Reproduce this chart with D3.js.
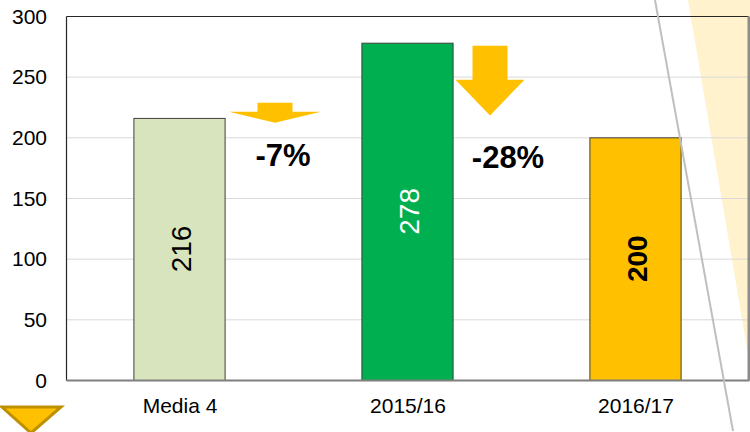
<!DOCTYPE html>
<html>
<head>
<meta charset="utf-8">
<script src="https://cdn.jsdelivr.net/npm/d3@7"></script>
<style>
  body { margin: 0; background: #fff; }
  text { font-family: "Liberation Sans", Arial, sans-serif; }
</style>
</head>
<body>
<script>
var width = 750, height = 432;

// data
var categories = ["Media 4", "2015/16", "2016/17"];
var values = [216, 278, 200];
var barColors = ["#d7e4bd", "#00b050", "#ffc000"];
var labelColors = ["#000", "#fff", "#000"];
var labelWeights = ["normal", "normal", "bold"];
var yTicks = [0, 50, 100, 150, 200, 250, 300];
var changes = ["-7%", "-28%"];

var margin = {top: 16, left: 66, right: 0, bottom: 52};

var svg = d3.select("body").append("svg")
    .attr("width", width)
    .attr("height", height);

// light yellow band in the corner
svg.append("path")
    .attr("d", "M688,0 L750,0 L750,366 Z")
    .attr("fill", "#fff2cc");

var xScale = d3.scaleBand().domain(categories)
    .range([margin.left, width - margin.right])
    .paddingInner(0.6).paddingOuter(0.3),
yScale = d3.scaleLinear().domain([0, 300])
    .range([height - margin.bottom, margin.top]);

// gridlines
svg.append("g")
    .selectAll("line")
    .data(yTicks.filter(function(d) { return d > 0 && d < 300; }))
    .enter().append("line")
    .attr("x1", margin.left).attr("x2", width - 2)
    .attr("y1", function(d) { return yScale(d) + 0.5; })
    .attr("y2", function(d) { return yScale(d) + 0.5; })
    .attr("stroke", "#d9d9d9").attr("stroke-width", 1);

// y labels
svg.append("g")
    .selectAll("text")
    .data(yTicks)
    .enter().append("text")
    .attr("x", 47)
    .attr("y", function(d) { return yScale(d); })
    .attr("dy", "0.36em")
    .attr("text-anchor", "end")
    .attr("font-size", 21)
    .attr("fill", "#000")
    .text(function(d) { return d; });

// bars
svg.selectAll(".bar")
    .data(values)
    .enter().append("rect")
    .attr("class", "bar")
    .attr("x", function(d, i) { return xScale(categories[i]) - 0.5; })
    .attr("y", function(d) { return yScale(d) + 0.5; })
    .attr("width", xScale.bandwidth())
    .attr("height", function(d) { return yScale(0) - yScale(d); })
    .attr("fill", function(d, i) { return barColors[i]; })
    .attr("stroke", "#404040")
    .attr("stroke-width", 1);

// value labels, rotated
svg.selectAll(".val")
    .data(values)
    .enter().append("text")
    .attr("class", "val")
    .attr("transform", function(d, i) {
        var cx = xScale(categories[i]) + xScale.bandwidth() / 2 + 1;
        var cy = (yScale(d) + yScale(0)) / 2;
        return "translate(" + cx + "," + cy + ") rotate(-90)";
    })
    .attr("text-anchor", "middle")
    .attr("dy", "0.36em")
    .attr("font-size", 28)
    .attr("font-weight", function(d, i) { return labelWeights[i]; })
    .attr("fill", function(d, i) { return labelColors[i]; })
    .text(function(d) { return d; });

// frame
var x0 = margin.left + 0.5, x1 = width - 1.5, y0 = yScale(300) + 0.5, y1 = yScale(0) + 0.5;
svg.append("line").attr("x1", x0).attr("x2", x1).attr("y1", y0).attr("y2", y0)
    .attr("stroke", "#262626").attr("stroke-width", 1.2);
svg.append("line").attr("x1", x0).attr("x2", x0).attr("y1", y0).attr("y2", y1)
    .attr("stroke", "#262626").attr("stroke-width", 1.2);
svg.append("line").attr("x1", x0).attr("x2", x1 + 1).attr("y1", y1).attr("y2", y1)
    .attr("stroke", "#7f7f7f").attr("stroke-width", 2);
svg.append("line").attr("x1", x1 + 0.5).attr("x2", x1 + 0.5).attr("y1", y0).attr("y2", y1)
    .attr("stroke", "#8c8c8c").attr("stroke-width", 3);

// x labels
svg.selectAll(".xl")
    .data(categories)
    .enter().append("text")
    .attr("class", "xl")
    .attr("x", function(d) { return xScale(d) + xScale.bandwidth() / 2; })
    .attr("y", 413)
    .attr("text-anchor", "middle")
    .attr("font-size", 21)
    .attr("fill", "#000")
    .text(function(d) { return d; });

// down arrows between bars
function arrow(cx, top, neck, tip, shaftW, headW) {
    return "M" + (cx - shaftW / 2) + "," + top +
        " L" + (cx + shaftW / 2) + "," + top +
        " L" + (cx + shaftW / 2) + "," + neck +
        " L" + (cx + headW / 2) + "," + neck +
        " L" + cx + "," + tip +
        " L" + (cx - headW / 2) + "," + neck +
        " L" + (cx - shaftW / 2) + "," + neck + " Z";
}
var gapCenter = function(i) {
    return (xScale(categories[i]) + xScale.bandwidth() + xScale(categories[i + 1])) / 2;
};
svg.append("path")
    .attr("d", arrow(gapCenter(0) - 19, yScale(228.5), yScale(221), yScale(212), 35, 92))
    .attr("fill", "#ffc000");
svg.append("path")
    .attr("d", arrow(gapCenter(1) - 32, yScale(275.5), yScale(247.5), yScale(218), 35, 69))
    .attr("fill", "#ffc000");

svg.selectAll(".chg")
    .data(changes)
    .enter().append("text")
    .attr("class", "chg")
    .attr("x", function(d, i) { return gapCenter(i) + (i === 0 ? -11 : -14); })
    .attr("y", function(d, i) { return i === 0 ? 166 : 168; })
    .attr("text-anchor", "middle")
    .attr("font-size", 31)
    .attr("font-weight", "bold")
    .attr("fill", "#000")
    .text(function(d) { return d; });

// slanted decorative line
svg.append("line")
    .attr("x1", 655).attr("y1", 0)
    .attr("x2", 733).attr("y2", 431)
    .attr("stroke", "#bfbfbf").attr("stroke-width", 2);

// small down triangle bottom-left
svg.append("path")
    .attr("d", "M2,407 L61,407 L31,433 Z")
    .attr("fill", "#ffc000")
    .attr("stroke", "#bf9000")
    .attr("stroke-width", 3)
    .attr("stroke-linejoin", "miter");
</script>
</body>
</html>
